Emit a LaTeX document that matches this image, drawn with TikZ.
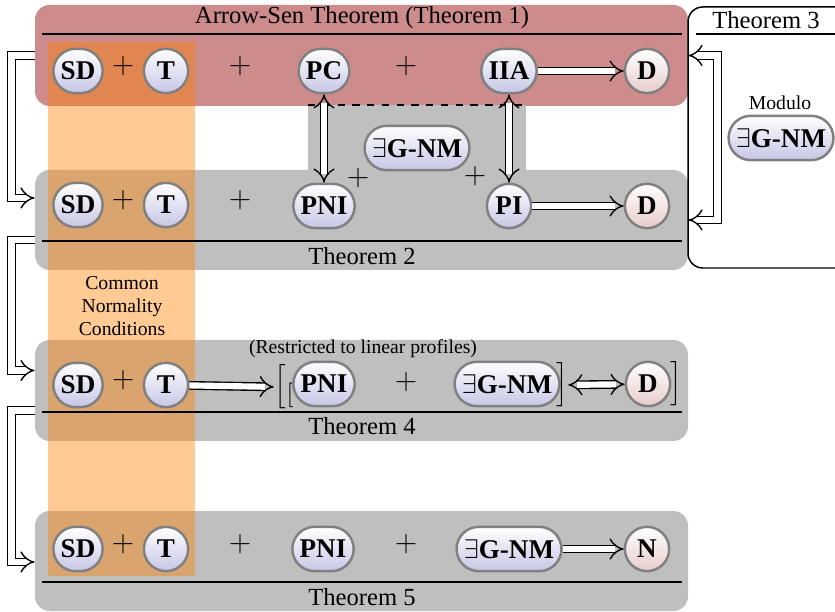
\documentclass[tikz,border=0pt]{standalone}
\usepackage{fontspec}
\setmainfont{Liberation Serif}
\usepackage{amsmath}
\usepackage{tikz}
\usetikzlibrary{arrows.meta}
\usetikzlibrary{calc}
\usetikzlibrary{fit}
\definecolor{thmred}{RGB}{205,139,139}
\definecolor{thmgray}{RGB}{191,191,191}
\definecolor{termblue}{RGB}{198,198,230}
\definecolor{termred}{RGB}{232,204,204}
\tikzset{basic term/.style={draw=gray,
                            line width=1pt,
                            rounded corners=9pt,
                            minimum height=18pt,
                            minimum width=18pt,
                            inner xsep=3pt,
                            inner ysep=0pt,
                            font=\fontsize{11}{13}\selectfont\bfseries}}
\tikzset{term/.style={basic term,top color=white,bottom color=termblue}}
\tikzset{goal/.style={basic term,top color=white,bottom color=termred}}
\tikzset{imp/.style={draw,double,double distance=2.5pt,line width=.55pt}}
\tikzset{thm box/.style={inner sep=0pt,rounded corners=6pt}}

\begin{document}
\begin{tikzpicture}
      [
      x=.4065pt,y=-.4065pt,
      plus/.style={font=\large},
      caption/.style={font=\footnotesize,align=center},
      rule/.style={line width=.8pt},
      bracket/.style={inner sep=0pt},
      ]
      \useasboundingbox (0,0) rectangle (835,612);

      % theorem boxes
      \node [thm box,fill=thmred,fit={(35,5) (688,106)}] (thm1) {};
      \node [thm box,fill=thmgray,fit={(35,170) (688,270)}] (thm2) {};
      \node [thm box,fill=thmgray,fit={(35,340) (688,441)}] (thm4) {};
      \node [thm box,fill=thmgray,fit={(35,511) (688,611)}] (thm5) {};
      \node [thm box,draw,line width=.6pt,fill=white,fit={(688,7) (870,268)}] (thm3) {};

      % bridge between theorem 1 and theorem 2
      \fill [thmgray] (308,105) rectangle (526,172);
      \draw [rule,dashed] (308,105) -- (526,105);

      % common normality conditions
      \fill [orange,opacity=.42] (48,42) rectangle (195,576);
      \node [caption] (common) at (122,306) {Common\\Normality\\Conditions};

      % rules and titles
      \draw [rule] (42,34) -- (682,34);
      \draw [rule] (42,241) -- (682,241);
      \draw [rule] (42,412) -- (682,412);
      \draw [rule] (42,582) -- (682,582);
      \draw [rule] (696,34) -- (840,34);
      \node (title1) at (362,18) {Arrow-Sen Theorem (Theorem 1)};
      \node (title2) at (362,256) {Theorem 2};
      \node (title3) at (766,20) {Theorem 3};
      \node (title4) at (362,426) {Theorem 4};
      \node (title5) at (362,597) {Theorem 5};
      \node [caption] (restricted) at (363,349) {(Restricted to linear profiles)};
      \node [caption] (modulo) at (780,103) {Modulo};

      % terms
      \foreach \r/\y in {1/71,2/205,4/385,5/549}
      {
      \node [term] (SD\r) at (78,\y) {SD};
      \node [plus] (plus\r) at (123,\y-5) {$+$};
      \node [term] (T\r) at (166,\y) {T};
      }
      \foreach \r/\y in {1/66,2/200,5/544}
      \node [plus] (plusb\r) at (240,\y) {$+$};

      \node [term] (PC) at (324,71) {PC};
      \node [plus] (plusc1) at (406,66) {$+$};
      \node [term] (IIA) at (509,71) {IIA};
      \node [goal] (D1) at (647,71) {D};

      \node [term] (PNI2) at (324,206) {PNI};
      \node [plus] (plusc2) at (358,178) {$+$};
      \node [term] (GNM2) at (417,148) {$\exists$G-NM};
      \node [plus] (plusd2) at (475,176) {$+$};
      \node [term] (PI2) at (509,206) {PI};
      \node [goal] (D2) at (647,206) {D};

      \node [bracket] (lb1) at (280,387) {$\Big[$};
      \node [bracket] (lb2) at (290,395) {$[$};
      \node [term] (PNI4) at (324,384) {PNI};
      \node [plus] (plusc4) at (406,382) {$+$};
      \node [term] (GNM4) at (507,384) {$\exists$G-NM};
      \node [bracket] (rb1) at (562,385) {$\Big]$};
      \node [goal] (D4) at (648,384) {D};
      \node [bracket] (rb2) at (676,384) {$\Big]$};

      \node [term] (PNI5) at (323,549) {PNI};
      \node [plus] (plusc5) at (406,544) {$+$};
      \node [term] (GNM5) at (509,549) {$\exists$G-NM};
      \node [goal] (N5) at (647,549) {N};

      \node [term] (GNM3) at (781,138) {$\exists$G-NM};

      % implications
      \draw [imp,-Implies] (IIA) -- (D1);
      \draw [imp,-Implies] (PI2) -- (D2);
      \draw [imp,-Implies] (T4) -- (lb1);
      \draw [imp,Implies-Implies] (rb1) -- (D4);
      \draw [imp,-Implies] (GNM5) -- (N5);
      \draw [imp,Implies-Implies] (PC) -- (PNI2);
      \draw [imp,Implies-Implies] (IIA) -- (PI2);

      % between theorems
      \draw [imp,-Implies] (thm1.west) -- ++(-23,0) |- ($(thm2.west)+(0,-22)$);
      \draw [imp,-Implies] ($(thm2.west)+(0,20)$) -- ++(-23,0) |- ($(thm4.west)+(0,-20)$);
      \draw [imp,-Implies] ($(thm4.west)+(0,20)$) -- ++(-23,0) |- ($(thm5.west)+(0,1)$);
      \draw [imp,Implies-Implies] (thm1.east) -- ++(29,0) |- (thm2.east);

\end{tikzpicture}
\end{document}
